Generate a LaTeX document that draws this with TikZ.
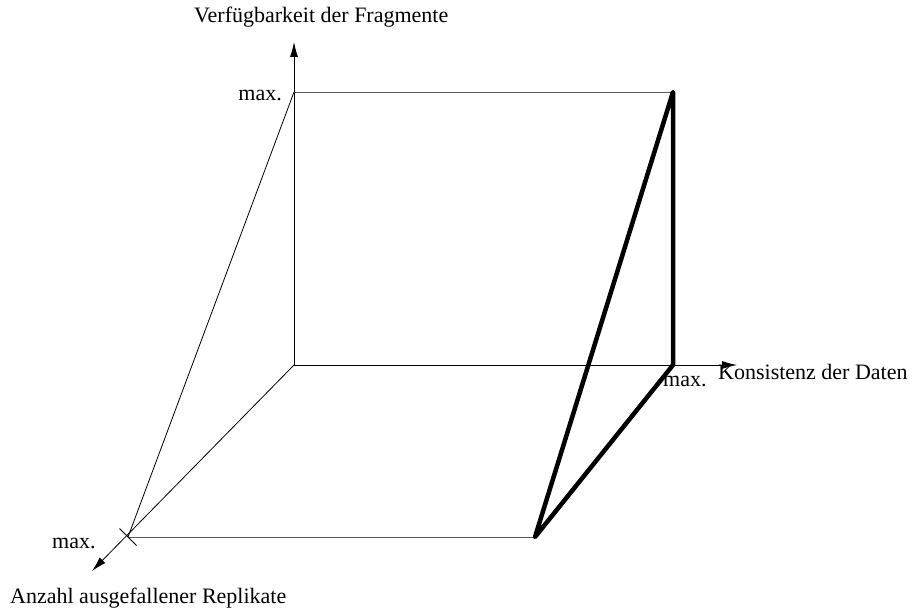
\documentclass[tikz,border=0pt]{standalone}
\usepackage{fontspec}
\setmainfont{Liberation Serif}
\usetikzlibrary{arrows.meta}
\begin{document}
\begin{tikzpicture}[x=1pt,y=-1pt,
  thinline/.style={line width=0.8pt,draw=black!65},
  axisline/.style={line width=0.8pt,draw=black,-{Latex[length=15pt,width=8pt]}},
  thickline/.style={line width=4.5pt,line cap=round,line join=round},
  lbl/.style={font=\fontsize{22}{22}\selectfont,inner sep=0pt}]
\useasboundingbox (0,0) rectangle (912,610);
\coordinate (O) at (294,365);
\coordinate (Ytip) at (294,42);
\coordinate (Xtip) at (737,365);
\coordinate (Ztip) at (92,571);
\coordinate (Ymax) at (294,92);
\coordinate (TR) at (673,92);
\coordinate (Xmax) at (673,365);
\coordinate (Zmax) at (128,537);
\coordinate (BR) at (535,537);
\coordinate (c1) at (119.5,528.5);
\coordinate (c2) at (136.5,545.5);
% axes
\draw[axisline] (O) -- (Ytip);
\draw[axisline] (O) -- (Xtip);
\draw[axisline] (O) -- (Ztip);
% thin frame
\draw[thinline] (Ymax) -- (TR);
\draw[thinline] (Zmax) -- (BR);
\draw[line width=0.8pt] (Zmax) -- (Ymax);
\draw[line width=0.8pt] (c1) -- (c2);
% thick triangle
\draw[thickline] (BR) -- (TR) -- (Xmax) -- cycle;
% labels
\node[lbl,anchor=base west] (ylab) at (194,23) {Verfügbarkeit der Fragmente};
\node[lbl,anchor=base east] (ymaxl) at (282,100) {max.};
\node[lbl,anchor=base west] (xlab) at (718,379) {Konsistenz der Daten};
\node[lbl,anchor=base west] (xmaxl) at (663,386) {max.};
\node[lbl,anchor=base west] (zmaxl) at (52,548) {max.};
\node[lbl,anchor=base west] (zlab) at (10,603) {Anzahl ausgefallener Replikate};
\end{tikzpicture}
\end{document}
